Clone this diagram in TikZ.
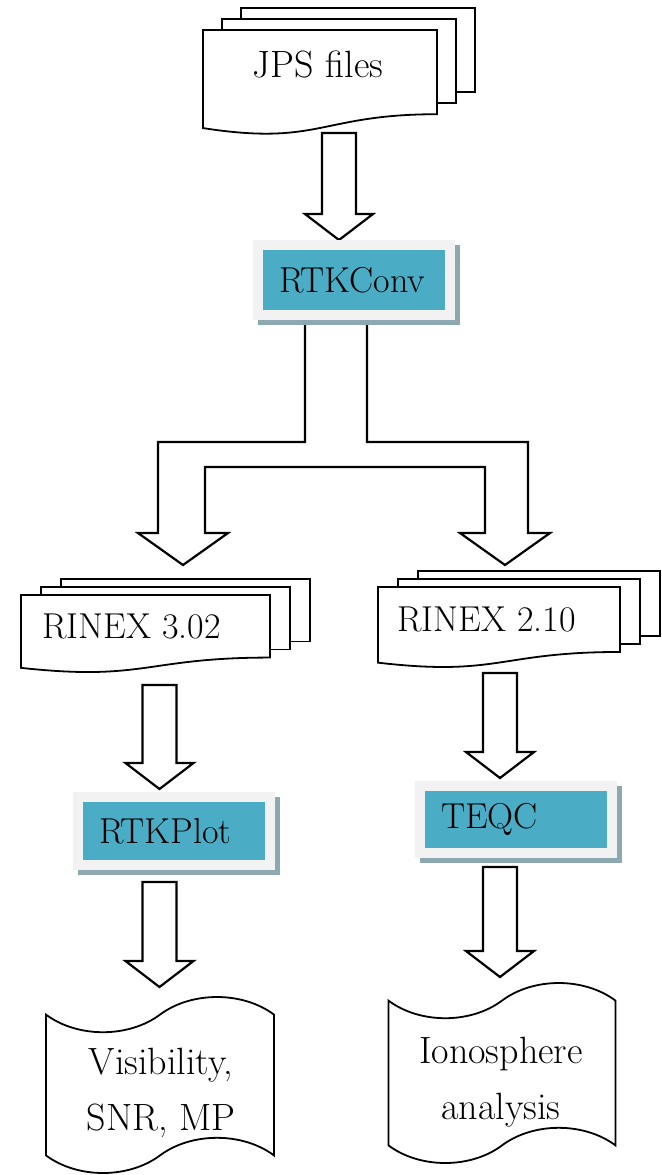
\documentclass[tikz,border=0pt]{standalone}
\usepackage{fontspec}
\usetikzlibrary{calc,shapes.symbols}

\definecolor{toolblue}{RGB}{75,172,198}
\definecolor{framegray}{RGB}{242,242,242}
\definecolor{shadowteal}{RGB}{140,168,176}

\newcommand{\diafont}{\fontsize{18pt}{22pt}\selectfont}

\tikzset{
  docline/.style={draw=black, fill=white, line width=0.9pt},
  hollowarrow/.style={draw=black, fill=white, line width=1.1pt, line join=miter},
  lbl/.style={font=\diafont, inner sep=0pt},
  toolbox/.style={fill=toolblue, font=\diafont, align=left,
    minimum width=91pt, text width=75pt, inner xsep=8pt, inner ysep=0pt,
    preaction={fill=shadowteal, draw=shadowteal, line width=10pt,
      transform canvas={shift={(2.5pt,-2.5pt)}}},
    preaction={draw=framegray, line width=10pt}},
  tapebox/.style={tape, draw=black, fill=white, line width=0.9pt,
    tape bend height=17.6pt},
  tapetext/.style={align=center, inner sep=0pt,
    font=\fontsize{19pt}{28pt}\selectfont}
}

% front page of a stack, two sheets showing behind it
% #1,#2 top left  #3 width  #4 height  #5,#6 offset of each sheet
\newcommand{\multidoc}[6]{%
  \foreach \k in {2,1}{
    \filldraw[docline] ({#1+\k*#5},{#2-\k*#6}) rectangle ({#1+#3+\k*#5},{#2+0.802*#4-\k*#6});
  }
  \filldraw[docline] (#1,#2) -- ({#1+#3},#2) -- ({#1+#3},{#2+0.802*#4})
    .. controls ({#1+0.5*#3},{#2+0.802*#4}) and ({#1+0.5*#3},{#2+1.1075*#4}) .. (#1,{#2+0.934*#4}) -- cycle;
}

% hollow down arrow from #1 (top of shaft) to #2 (tip)
\newcommand{\blockarrow}[2]{%
  \draw[hollowarrow] let \p1=(#1), \p2=(#2) in
    (\x1-8.5pt,\y1) -- (\x1+8.5pt,\y1) -- (\x1+8.5pt,\y2+13pt) -- (\x1+17pt,\y2+13pt)
    -- (\x1,\y2) -- (\x1-17pt,\y2+13pt) -- (\x1-8.5pt,\y2+13pt) -- cycle;
}

\begin{document}
\begin{tikzpicture}[x=0.5pt,y=-0.5pt]
\useasboundingbox (0,0) rectangle (661,1175);

% arrow ends
\coordinate (jpsout) at (339,133);
\coordinate (convin) at (339,240);
\coordinate (rinexaout) at (159.5,685);
\coordinate (plotin) at (159.5,789);
\coordinate (rinexbout) at (500,673);
\coordinate (teqcin) at (500,778);
\coordinate (plotout) at (159.5,882);
\coordinate (visin) at (159.5,987);
\coordinate (teqcout) at (500,867);
\coordinate (ionoin) at (500,977);

% arrows
\blockarrow{jpsout}{convin}
\draw[hollowarrow] (305,322) -- (305,442) -- (158,442) -- (158,533) -- (138,533) -- (183,565)
  -- (228,533) -- (205,533) -- (205,467) -- (485,467) -- (485,533) -- (460,533) -- (505,565)
  -- (550,533) -- (528,533) -- (528,442) -- (367,442) -- (367,322) -- cycle;
\blockarrow{rinexaout}{plotin}
\blockarrow{rinexbout}{teqcin}
\blockarrow{plotout}{visin}
\blockarrow{teqcout}{ionoin}

% input files
\multidoc{203}{30}{234}{105}{19}{11}
\node[lbl, font=\fontsize{19pt}{22pt}\selectfont] (jps) at (318,64) {JPS files};

% converter
\node[toolbox, minimum height=30pt] (rtkconv) at (354,280) {RTKConv};

% rinex files
\multidoc{21}{595}{249}{78}{20}{8}
\node[lbl, anchor=west] (rinexa) at (42,626) {RINEX 3.02};
\multidoc{378}{587}{242}{81}{20}{8}
\node[lbl, anchor=west] (rinexb) at (397,619) {RINEX 2.10};

% tools
\node[toolbox, minimum height=29pt] (rtkplot) at (174,831) {RTKPlot};
\node[toolbox, minimum height=28.5pt] (teqc) at (516,819.5) {TEQC};

% results
\node[tapebox, minimum width=114pt, minimum height=88pt] (vis) at (160,1085) {};
\node[tapetext] (vistext) at (161,1093) {Visibility,\\SNR, MP};
\node[tapebox, minimum width=113.5pt, minimum height=90pt] (iono) at (502,1073) {};
\node[tapetext] (ionotext) at (501,1082) {Ionosphere\\analysis};
\end{tikzpicture}
\end{document}
